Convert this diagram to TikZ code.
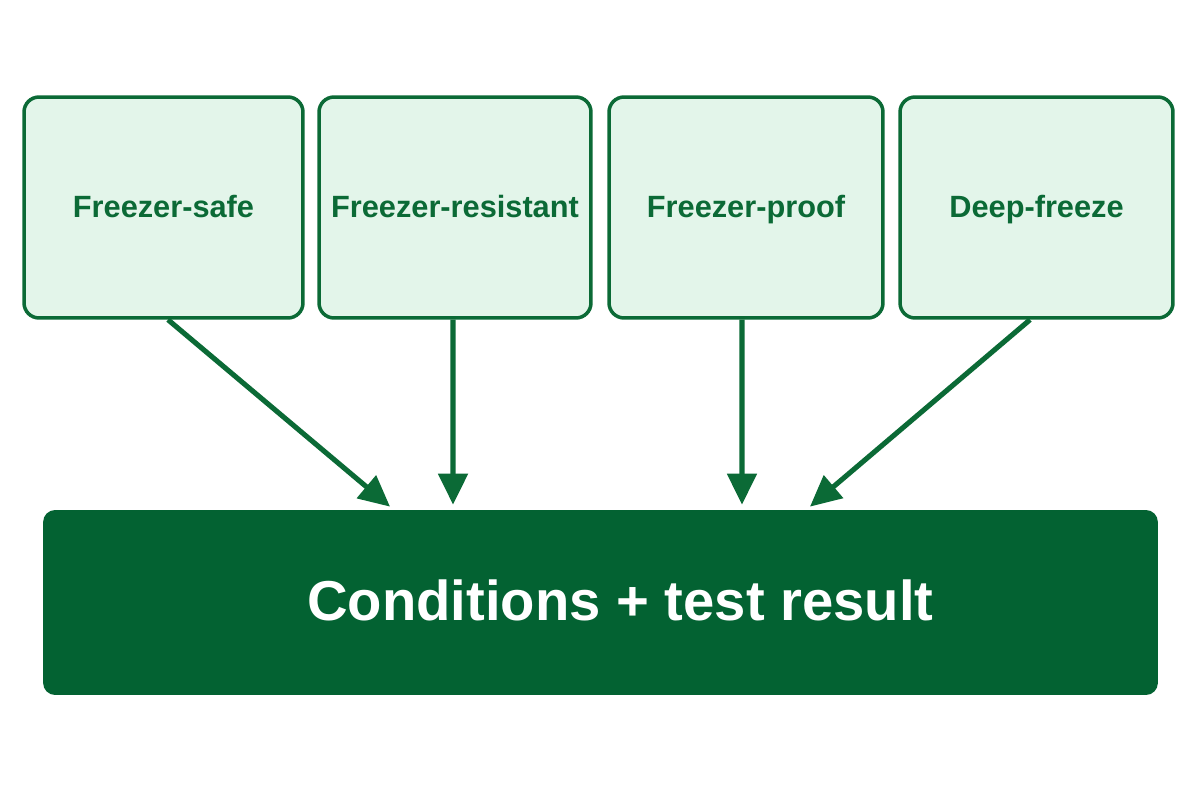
\documentclass[tikz,border=0pt]{standalone}
\usepackage{fontspec}
\setmainfont{Liberation Sans}
\usetikzlibrary{arrows.meta}
\definecolor{dkgreen}{HTML}{0B6A36}
\definecolor{bigfill}{HTML}{036232}
\definecolor{ltfill}{HTML}{E3F5EA}
\tikzset{
  smallbox/.style={draw=dkgreen, fill=ltfill, line width=2pt, rounded corners=0.3cm,
    minimum height=4.42cm, font=\fontsize{17.5}{20}\selectfont\bfseries, text=dkgreen, inner sep=0pt,
    text height=2.3ex, text depth=0.2ex},
  bigbox/.style={draw=none, fill=bigfill, rounded corners=0.24cm, minimum width=22.3cm, minimum height=3.7cm},
  biglabel/.style={font=\fontsize{32}{38}\selectfont\bfseries, text=white},
  arr/.style={draw=dkgreen, line width=2.9pt, -{Triangle[width=0.58cm,length=0.62cm]}}
}
\begin{document}
\begin{tikzpicture}[x=0.02cm,y=-0.02cm]
\useasboundingbox (0,0) rectangle (1200,800);
\fill[white] (0,0) rectangle (1200,800);
\node[smallbox, minimum width=5.58cm] (b1) at (163.5,207.5) {Freezer-safe};
\node[smallbox, minimum width=5.44cm] (b2) at (455,207.5) {Freezer-resistant};
\node[smallbox, minimum width=5.48cm] (b3) at (746,207.5) {Freezer-proof};
\node[smallbox, minimum width=5.46cm] (b4) at (1036.5,207.5) {Deep-freeze};
\node[bigbox] (big) at (600.5,602.5) {};
\node[biglabel] (bl) at (620.5,600) {Conditions + test result};
\draw[arr] ([xshift=0.09cm]b1.south) -- ([xshift=-4.21cm,yshift=0.06cm]big.north);
\draw[arr] ([xshift=-0.04cm]b2.south) -- ([xshift=-2.95cm,yshift=0.1cm]big.north);
\draw[arr] ([xshift=-0.08cm]b3.south) -- ([xshift=2.83cm,yshift=0.1cm]big.north);
\draw[arr] ([xshift=-0.13cm]b4.south) -- ([xshift=4.19cm,yshift=0.06cm]big.north);
\end{tikzpicture}
\end{document}
